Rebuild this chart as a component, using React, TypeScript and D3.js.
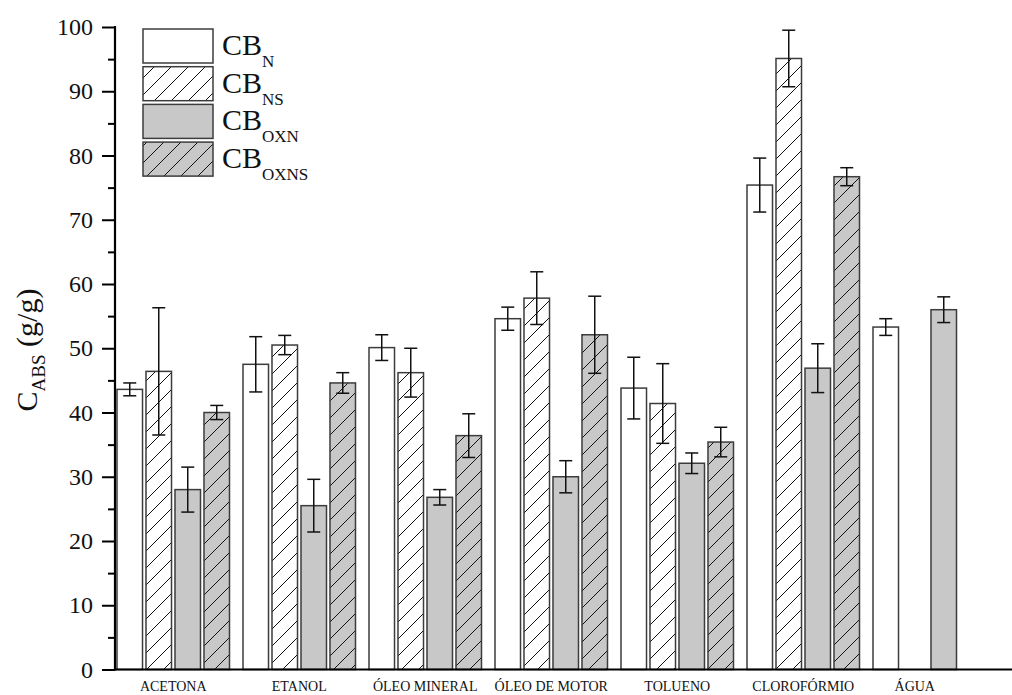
import React, { useRef, useEffect } from 'react';
import * as d3 from 'd3';

const categories = ['ACETONA', 'ETANOL', 'ÓLEO MINERAL', 'ÓLEO DE MOTOR', 'TOLUENO', 'CLOROFÓRMIO', 'ÁGUA'];
const seriesNames = ['N', 'NS', 'OXN', 'OXNS'];

const cbN = [43.6, 47.5, 50.1, 54.6, 43.8, 75.4, 53.3];
const cbNErr = [1.0, 4.3, 2.0, 1.8, 4.8, 4.2, 1.3];
const cbNS = [46.4, 50.5, 46.2, 57.8, 41.4, 95.1, null];
const cbNSErr = [9.9, 1.5, 3.8, 4.1, 6.2, 4.4, null];
const cbOXN = [28.0, 25.5, 26.8, 30.0, 32.1, 46.9, 56.0];
const cbOXNErr = [3.5, 4.1, 1.2, 2.5, 1.6, 3.8, 2.0];
const cbOXNS = [40.0, 44.6, 36.4, 52.1, 35.4, 76.7, null];
const cbOXNSErr = [1.1, 1.6, 3.4, 6.0, 2.3, 1.4, null];

const yTicks = [0, 10, 20, 30, 40, 50, 60, 70, 80, 90, 100];

const W = 1012;
const H = 695;
const FONT = '"Liberation Serif", "Times New Roman", serif';
const GRAY = '#c8c8c8';

const App = () => {
  const svgRef = useRef(null);

  useEffect(() => {
    const svg = d3.select(svgRef.current);
    svg.selectAll('*').remove();

    const values = [cbN, cbNS, cbOXN, cbOXNS];
    const errors = [cbNErr, cbNSErr, cbOXNErr, cbOXNSErr];
    const fills = ['#ffffff', 'url(#hatchWhite)', GRAY, 'url(#hatchGray)'];

    const axisX = 115;
    const y = d3.scaleLinear().domain([0, 100]).range([669.5, 27]);
    const x0 = d3.scaleBand().domain(categories).range([117, 117 + 126 * categories.length]);
    const x1 = d3.scaleBand().domain(seriesNames).range([0, 112.5]).paddingInner(0.12).paddingOuter(0);

    // hatch patterns
    const defs = svg.append('defs');
    const mkPattern = (id, bg) => {
      const p = defs.append('pattern')
        .attr('id', id)
        .attr('patternUnits', 'userSpaceOnUse')
        .attr('width', 17)
        .attr('height', 17);
      p.append('rect').attr('width', 17).attr('height', 17).attr('fill', bg);
      p.append('path')
        .attr('d', 'M-4,4 L4,-4 M0,17 L17,0 M13,21 L21,13')
        .attr('stroke', '#111')
        .attr('stroke-width', 1);
    };
    mkPattern('hatchWhite', '#ffffff');
    mkPattern('hatchGray', GRAY);

    // bars
    const g = svg.append('g');
    values.forEach((vals, si) => {
      vals.forEach((v, ci) => {
        if (v == null) return;
        const bx = x0(categories[ci]) + x1(seriesNames[si]);
        g.append('rect')
          .attr('x', bx)
          .attr('y', y(v))
          .attr('width', x1.bandwidth())
          .attr('height', y(0) - y(v))
          .attr('fill', fills[si])
          .attr('stroke', '#3c3c3c')
          .attr('stroke-width', 1.5);
      });
    });

    // error bars
    values.forEach((vals, si) => {
      vals.forEach((v, ci) => {
        const e = errors[si][ci];
        if (v == null || e == null) return;
        const cx = x0(categories[ci]) + x1(seriesNames[si]) + x1.bandwidth() / 2;
        const eg = g.append('g').attr('stroke', '#111').attr('stroke-width', 1.5);
        eg.append('line').attr('x1', cx).attr('x2', cx).attr('y1', y(v - e)).attr('y2', y(v + e));
        [v - e, v + e].forEach((t) => {
          eg.append('line').attr('x1', cx - 6.5).attr('x2', cx + 6.5).attr('y1', y(t)).attr('y2', y(t));
        });
      });
    });

    // y axis
    const yAxis = svg.append('g')
      .attr('transform', `translate(${axisX},0)`)
      .call(d3.axisLeft(y).tickValues(yTicks).tickSize(13).tickPadding(9).tickSizeOuter(0));
    yAxis.select('.domain').remove();
    yAxis.selectAll('line').attr('stroke', '#000').attr('stroke-width', 2);
    yAxis.selectAll('text')
      .attr('fill', '#111')
      .style('font-family', FONT)
      .style('font-size', '24px');

    const minor = svg.append('g')
      .attr('transform', `translate(${axisX},0)`)
      .call(d3.axisLeft(y).tickValues(d3.range(5, 100, 10)).tickSize(7).tickFormat(() => ''));
    minor.select('.domain').remove();
    minor.selectAll('line').attr('stroke', '#000').attr('stroke-width', 2);

    svg.append('line')
      .attr('x1', axisX).attr('x2', axisX)
      .attr('y1', y(100) - 1).attr('y2', y(0) + 1)
      .attr('stroke', '#000').attr('stroke-width', 2.2);
    svg.append('line')
      .attr('x1', axisX - 1).attr('x2', W)
      .attr('y1', y(0)).attr('y2', y(0))
      .attr('stroke', '#000').attr('stroke-width', 2.2);

    // x labels, centred on the bars that exist
    categories.forEach((c, ci) => {
      const present = seriesNames.filter((_, si) => values[si][ci] != null);
      const left = x0(c) + x1(present[0]);
      const right = x0(c) + x1(present[present.length - 1]) + x1.bandwidth();
      svg.append('text')
        .attr('x', (left + right) / 2)
        .attr('y', 691)
        .attr('text-anchor', 'middle')
        .attr('fill', '#111')
        .style('font-family', FONT)
        .style('font-size', '14px')
        .text(c);
    });

    // y title
    const title = svg.append('text')
      .attr('transform', 'translate(37,350) rotate(-90)')
      .attr('text-anchor', 'middle')
      .attr('fill', '#111')
      .style('font-family', FONT)
      .style('font-size', '30px');
    title.append('tspan').text('C');
    title.append('tspan').attr('dy', 8).style('font-size', '19px').text('ABS');
    title.append('tspan').attr('dy', -8).text(' (g/g)');

    // legend
    const legend = svg.append('g');
    seriesNames.forEach((s, si) => {
      const top = 29 + si * 37.7;
      legend.append('rect')
        .attr('x', 143).attr('y', top)
        .attr('width', 70).attr('height', 34)
        .attr('fill', fills[si])
        .attr('stroke', '#3c3c3c')
        .attr('stroke-width', 1.5);
      const t = legend.append('text')
        .attr('x', 222).attr('y', top + 26)
        .attr('fill', '#111')
        .style('font-family', FONT)
        .style('font-size', '30px');
      t.append('tspan').text('CB');
      t.append('tspan').attr('dy', 12).style('font-size', '17px').text(s);
    });
  }, []);

  return (
    <svg
      ref={svgRef}
      width={W}
      height={H}
      style={{ position: 'absolute', left: 0, top: 0, background: '#fff' }}
    />
  );
};

export default App;
